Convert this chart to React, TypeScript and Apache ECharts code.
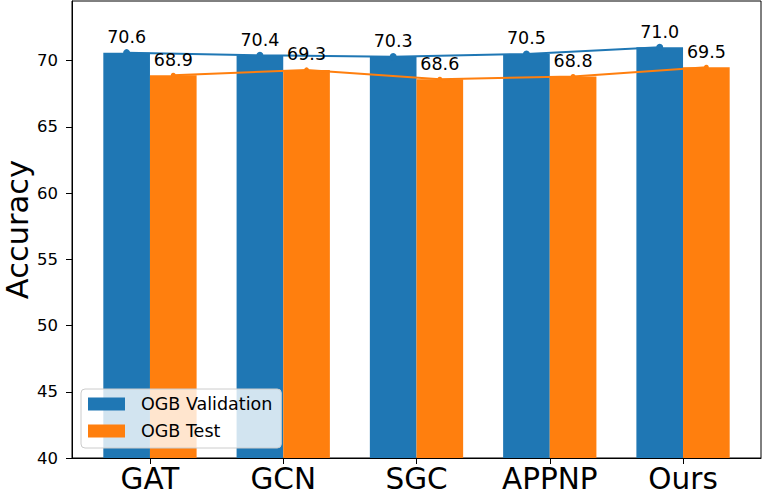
import React, { useEffect, useRef } from "react";
import * as echarts from "echarts";

const categories = ["GAT", "GCN", "SGC", "APPNP", "Ours"];
const validation = [70.6, 70.4, 70.3, 70.5, 71.0];
const test = [68.9, 69.3, 68.6, 68.8, 69.5];
const yTicks = [40, 45, 50, 55, 60, 65, 70];
const xTicks = [0, 1, 2, 3, 4];

const BLUE = "#1f77b4";
const ORANGE = "#ff7f0e";
const FONT = "DejaVu Sans";

export default function App() {
  const ref = useRef<HTMLDivElement>(null);

  useEffect(() => {
    if (!ref.current) return;
    const chart = echarts.init(ref.current, undefined, { renderer: "svg" });
    const W = 764;
    const gridLeft = 72;
    const gridRight = 3;
    const xMin = -0.585;
    const xMax = 4.585;
    const pxPerUnit = (W - gridLeft - gridRight) / (xMax - xMin);
    const barW = 0.35 * pxPerUnit;
    const off = 0.175;

    const valBars = validation.map((v, i) => [i - off, v]);
    const testBars = test.map((v, i) => [i + off, v]);

    chart.setOption({
      animation: false,
      textStyle: { fontFamily: FONT },
      grid: {
        left: gridLeft,
        right: gridRight,
        top: 1,
        bottom: 37,
        containLabel: false,
        outerBoundsMode: "none",
        show: true,
        borderColor: "#000",
        borderWidth: 1,
        backgroundColor: "transparent",
      },
      legend: {
        data: ["OGB Validation", "OGB Test"],
        orient: "vertical",
        left: 81,
        top: 389,
        icon: "rect",
        itemWidth: 37,
        itemHeight: 13,
        itemGap: 9,
        padding: [6, 9, 8, 7],
        backgroundColor: "rgba(255,255,255,0.8)",
        borderColor: "#cccccc",
        borderWidth: 1,
        borderRadius: 4,
        textStyle: {
          fontFamily: FONT,
          fontSize: 17.5,
          lineHeight: 18,
          color: "#000",
          padding: [0, 0, 0, 11],
        },
        selectedMode: false,
      },
      xAxis: {
        type: "value",
        min: xMin,
        max: xMax,
        splitLine: { show: false },
        axisLine: { show: true, onZero: false, lineStyle: { color: "#000", width: 1 } },
        axisTick: {
          show: true,
          customValues: xTicks,
          length: 6,
          lineStyle: { color: "#000" },
        },
        axisLabel: {
          customValues: xTicks,
          formatter: (v: number) => categories[Math.round(v)] ?? "",
          fontSize: 29.5,
          lineHeight: 28,
          color: "#000",
          margin: 7,
          fontFamily: FONT,
        },
      },
      yAxis: {
        type: "value",
        min: 40,
        max: 74.5,
        name: "Accuracy",
        nameLocation: "middle",
        nameGap: 42,
        nameMoveOverlap: false,
        nameTextStyle: { fontSize: 30.5, lineHeight: 26, color: "#000", fontFamily: FONT },
        splitLine: { show: false },
        axisLine: { show: true, onZero: false, lineStyle: { color: "#000", width: 1 } },
        axisTick: {
          show: true,
          customValues: yTicks,
          length: 6,
          lineStyle: { color: "#000" },
        },
        axisLabel: {
          customValues: yTicks,
          fontSize: 16.5,
          color: "#000",
          margin: 14,
          fontFamily: FONT,
        },
      },
      series: [
        {
          name: "OGB Validation",
          type: "bar",
          data: valBars,
          barWidth: barW,
          barGap: "-100%",
          itemStyle: { color: BLUE },
          z: 2,
        },
        {
          name: "OGB Test",
          type: "bar",
          data: testBars,
          barWidth: barW,
          barGap: "-100%",
          itemStyle: { color: ORANGE },
          z: 2,
        },
        {
          name: "val-line",
          type: "line",
          data: valBars,
          symbol: "circle",
          symbolSize: 7,
          lineStyle: { color: BLUE, width: 2 },
          itemStyle: { color: BLUE },
          z: 3,
          label: {
            show: true,
            position: "top",
            distance: 3,
            fontSize: 17.5,
            color: "#000",
            fontFamily: FONT,
            formatter: (p: any) => Number(p.value[1]).toFixed(1),
          },
        },
        {
          name: "test-line",
          type: "line",
          data: testBars,
          symbol: "circle",
          symbolSize: 5,
          lineStyle: { color: ORANGE, width: 2 },
          itemStyle: { color: ORANGE },
          z: 3,
          label: {
            show: true,
            position: "top",
            distance: 4,
            fontSize: 17.5,
            color: "#000",
            fontFamily: FONT,
            formatter: (p: any) => Number(p.value[1]).toFixed(1),
          },
        },
      ],
    });
    return () => chart.dispose();
  }, []);

  return (
    <div
      ref={ref}
      style={{ position: "absolute", left: 0, top: 0, width: 764, height: 495, background: "#fff" }}
    />
  );
}
